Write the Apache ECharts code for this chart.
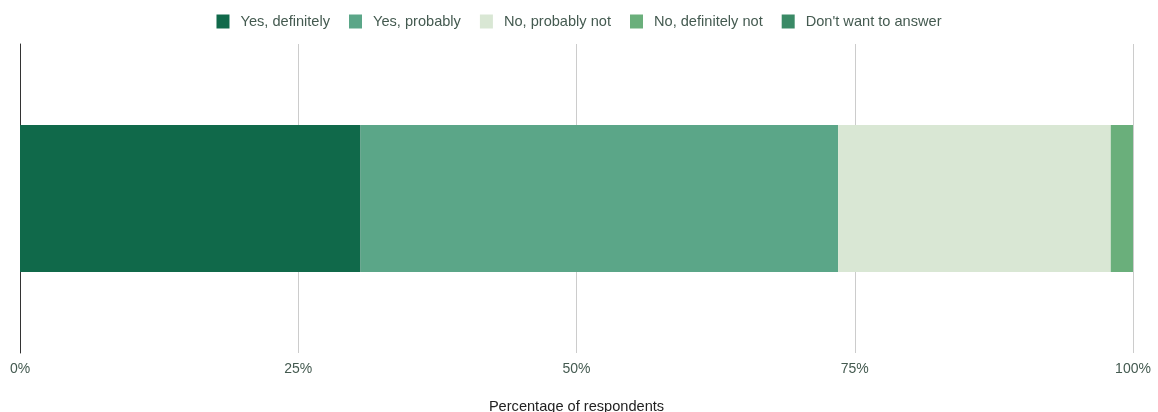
<!DOCTYPE html>
<html><head><meta charset="utf-8">
<script src="https://cdn.jsdelivr.net/npm/echarts@6/dist/echarts.min.js"></script>
<style>html,body{margin:0;padding:0;background:#fff}#c{width:1158px;height:412px}</style>
</head><body><div id="c"></div>
<script>
const categories = [''];
const seriesNames = ['Yes, definitely', 'Yes, probably', 'No, probably not', 'No, definitely not', "Don't want to answer"];
const yesDefinitely = [30.6];
const yesProbably = [42.9];
const noProbablyNot = [24.5];
const noDefinitelyNot = [2.0];
const dontWant = [0];
const tickLabels = ['0%', '25%', '50%', '75%', '100%'];
const colors = ['#10694a', '#5ba688', '#d9e7d4', '#6aaf7b', '#3a8a66'];
const allData = [yesDefinitely, yesProbably, noProbablyNot, noDefinitelyNot, dontWant];
const font = '"Liberation Sans", Arial, sans-serif';

const chart = echarts.init(document.getElementById('c'));
chart.setOption({
  animation: false,
  textStyle: {fontFamily: font},
  legend: {
    top: 9, left: 'center', itemWidth: 13, itemHeight: 14, itemGap: 19, icon: 'rect',
    textStyle: {color: '#445a50', fontSize: 14.6, fontFamily: font, padding: [0, 0, 0, 6]},
    data: seriesNames
  },
  grid: {left: 20, right: 25, top: 44, bottom: 59, containLabel: false, outerBoundsMode: 'none'},
  xAxis: {
    type: 'value', min: 0, max: 100, interval: 25,
    name: 'Percentage of respondents', nameLocation: 'middle', nameGap: 46,
    nameTextStyle: {color: '#222', fontSize: 14.6, fontFamily: font},
    axisLine: {show: false}, axisTick: {show: false},
    axisLabel: {color: '#445a50', fontSize: 14, margin: 9, fontFamily: font,
      formatter: v => tickLabels[Math.round(v / 25)]},
    splitLine: {lineStyle: {color: '#cccccc', width: 1}}
  },
  yAxis: {
    type: 'category', data: categories,
    axisLine: {show: true, lineStyle: {color: '#333', width: 1}},
    axisTick: {show: false}, axisLabel: {show: false}
  },
  series: seriesNames.map((n, i) => ({
    name: n, type: 'bar', stack: 'total', data: allData[i], barWidth: 147,
    itemStyle: {color: colors[i]}
  }))
});
</script></body></html>
